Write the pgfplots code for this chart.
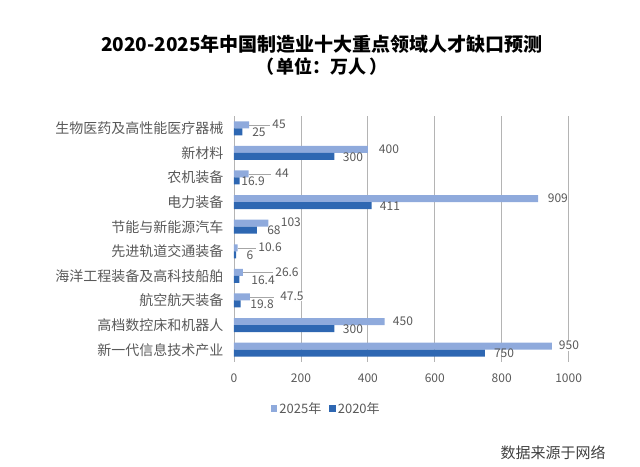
\documentclass[border=0pt]{standalone}
\usepackage{pgfplots}
\pgfplotsset{compat=1.18}
\usepackage{pgfplotstable}
\usepackage{fontspec}
\setmainfont{Noto Sans CJK SC}
\definecolor{c25}{RGB}{143,170,220}
\definecolor{c20}{RGB}{46,103,178}
\definecolor{txt}{RGB}{89,89,89}
\definecolor{gridc}{RGB}{180,180,180}
\pgfplotstableread{
k v25 v20 lx25 lx20
9 45 25 134.5 74.7
8 400 300 463 355.6
7 44 16.9 143.5 56.8
6 909 411 968 466
5 103 68 170 119.5
4 10.6 6 107.6 47.8
3 26.6 16.4 158.4 86.7
2 47.5 19.8 173.3 83.7
1 450 300 505 355.6
0 950 750 1001 807
}\data
\begin{document}
\begin{tikzpicture}[x=1pt,y=1pt]
\useasboundingbox (0,0) rectangle (640,466);
\node[font=\fontsize{19}{22}\selectfont\bfseries] at (322,422) {2020-2025年中国制造业十大重点领域人才缺口预测};
\node[font=\fontsize{18}{22}\selectfont\bfseries] at (322,399) {（\,单位：万人\,）};
\node[font=\fontsize{15}{18}\selectfont, text=black!75] at (553,13) {数据来源于网络};
\begin{axis}[
  at={(234pt,104pt)}, anchor=south west,
  scale only axis, width=334.6pt, height=246pt,
  xmin=0, xmax=1000, ymin=-0.5, ymax=9.5,
  clip=false,
  axis line style={draw=none},
  xtick={0,200,400,600,800,1000},
  ytick={0,...,9},
  yticklabels={新一代信息技术产业,高档数控床和机器人,航空航天装备,海洋工程装备及高科技船舶,先进轨道交通装备,节能与新能源汽车,电力装备,农机装备,新材料,生物医药及高性能医疗器械},
  major tick length=0pt,
  xmajorgrids, ymajorgrids=false,
  major grid style={gridc, line width=0.8pt},
  /pgf/number format/assume math mode=true,
  /pgf/number format/1000 sep={},
  xticklabel style={font=\fontsize{12}{14}\selectfont, text=txt, yshift=-8pt},
  yticklabel style={font=\fontsize{14}{16}\selectfont, text=txt, anchor=east, xshift=-7pt},
  legend style={at={(0.276,-0.191)}, anchor=center, draw=none, fill=none, font=\fontsize{13}{15}\selectfont, text=txt, legend columns=2, /tikz/every even column/.append style={column sep=6pt}},
  legend image code/.code={\fill[#1] (0pt,-3pt) rectangle (6.5pt,3.5pt);},
]
\addplot[xbar, bar width=7pt, bar shift=3.5pt, fill=c25, draw=none] table[x=v25, y=k]{\data};
\addlegendentry{2025年}
\addplot[xbar, bar width=7pt, bar shift=-3.5pt, fill=c20, draw=none] table[x=v20, y=k]{\data};
\addlegendentry{2020年}
% leader lines
\addplot[forget plot, gray!70, line width=0.5pt, yshift=3.5pt] coordinates {(45,9) (107.6,9)};
\addplot[forget plot, gray!70, line width=0.5pt, yshift=3.5pt] coordinates {(44,7) (110.6,7)};
\addplot[forget plot, gray!70, line width=0.5pt, yshift=3.5pt] coordinates {(10.6,4) (65.8,4)};
\addplot[forget plot, gray!70, line width=0.5pt, yshift=3.5pt] coordinates {(26.6,3) (116.6,3)};
\addplot[forget plot, gray!70, line width=0.5pt, yshift=3.5pt] coordinates {(47.5,2) (119.5,2)};
% labels
\addplot[forget plot, draw=none, mark=none, nodes near coords, point meta=explicit symbolic,
  nodes near coords style={anchor=center, yshift=4pt, font=\fontsize{12}{14}\selectfont, text=txt, fill=white, inner sep=0.5pt}]
  table[x=lx25, y=k, meta=v25]{\data};
\addplot[forget plot, draw=none, mark=none, nodes near coords, point meta=explicit symbolic,
  nodes near coords style={anchor=center, yshift=-4pt, font=\fontsize{12}{14}\selectfont, text=txt, inner sep=0.5pt}]
  table[x=lx20, y=k, meta=v20]{\data};
\end{axis}
\end{tikzpicture}
\end{document}
